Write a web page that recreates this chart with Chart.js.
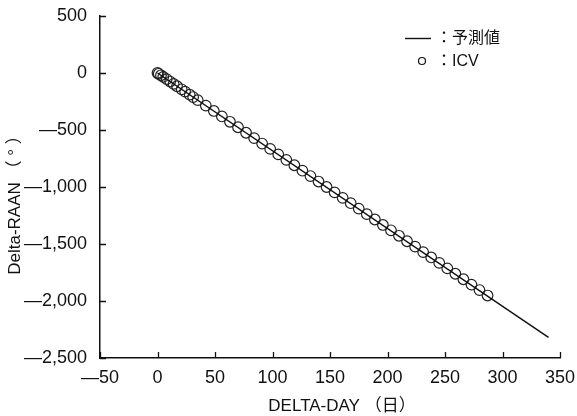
<!DOCTYPE html>
<html>
<head>
<meta charset="utf-8">
<script src="https://cdn.jsdelivr.net/npm/chart.js@4.4.1/dist/chart.umd.min.js"></script>
<style>
  html, body { margin: 0; padding: 0; background: #fff; }
  #wrap { width: 577px; height: 416px; }
</style>
</head>
<body>
<div id="wrap"><canvas id="myChart" width="577" height="416"></canvas></div>
<script>
// ICV observations (day, delta-RAAN in degrees)
const icvDays = [0, 1, 3, 5, 8, 11, 14, 17, 21, 24, 28, 31, 35, 42, 49, 56, 63, 70, 77, 84, 91, 98,
  105, 112, 119, 126, 133, 140, 147, 154, 161, 168, 175, 182, 189, 196, 203, 210, 217, 224, 231,
  238, 245, 252, 259, 266, 273, 280, 287];
const icvRaan = [0, -7, -20, -34, -54, -75, -95, -116, -143, -163, -190, -211, -238, -286, -333,
  -381, -428, -476, -524, -571, -619, -666, -714, -762, -809, -857, -904, -952, -1000, -1047,
  -1095, -1142, -1190, -1238, -1285, -1333, -1380, -1428, -1476, -1523, -1571, -1618, -1666,
  -1714, -1761, -1809, -1856, -1904, -1952];

// predicted line
const predDays = [0, 340];
const predRaan = [0, -2319];

const xTicks = [-50, 0, 50, 100, 150, 200, 250, 300, 350];
const yTicks = [500, 0, -500, -1000, -1500, -2000, -2500];

const xTitle = 'DELTA-DAY （日）';
const yTitle = 'Delta-RAAN （ ° ）';
const legendPred = '：予測値';
const legendIcv = '：ICV';

const tickFont = { family: "'Liberation Sans Narrow', 'Arial Narrow', sans-serif", size: 18 };
const fmt = (v) => {
  let s = Math.abs(v).toLocaleString('en-US');
  return v < 0 ? '—' + s : s;
};

const ctx = document.querySelector('#myChart');

const extras = {
  id: 'extras',
  afterDraw(chart) {
    const c = chart.ctx;
    const xs = chart.scales.x, ys = chart.scales.y;
    const area = chart.chartArea;
    c.save();
    // inward tick marks
    c.strokeStyle = '#111';
    c.lineWidth = 1.3;
    c.beginPath();
    yTicks.forEach((v) => {
      let py = Math.round(ys.getPixelForValue(v)) + 0.5;
      c.moveTo(area.left, py);
      c.lineTo(area.left + 6, py);
    });
    xTicks.forEach((v) => {
      let px = Math.round(xs.getPixelForValue(v)) + 0.5;
      c.moveTo(px, area.bottom);
      c.lineTo(px, area.bottom - 6);
    });
    c.stroke();

    // axis titles
    c.fillStyle = '#111';
    c.font = "17px 'Liberation Sans', 'Noto Sans CJK JP', sans-serif";
    c.textAlign = 'center';
    c.textBaseline = 'middle';
    c.fillText(xTitle, 342, 406);
    c.save();
    c.translate(15, 201);
    c.rotate(-Math.PI / 2);
    c.fillText(yTitle, 0, 0);
    c.restore();

    // legend
    c.textAlign = 'left';
    c.font = "16px 'Liberation Sans', 'Noto Sans CJK JP', sans-serif";
    c.beginPath();
    c.lineWidth = 1.4;
    c.moveTo(405, 38.5);
    c.lineTo(431, 38.5);
    c.stroke();
    c.fillText(legendPred, 436, 39);
    c.beginPath();
    c.lineWidth = 1.2;
    c.arc(422, 61, 3.5, 0, Math.PI * 2);
    c.stroke();
    c.fillText(legendIcv, 436, 62);
    c.restore();
  }
};

const config = {
  type: 'scatter',
  data: {
    datasets: [
      {
        label: '予測値',
        data: predDays.map((d, i) => ({ x: d, y: predRaan[i] })),
        showLine: true,
        borderColor: '#111',
        borderWidth: 1.5,
        pointRadius: 0,
        fill: false
      },
      {
        label: 'ICV',
        data: icvDays.map((d, i) => ({ x: d, y: icvRaan[i] })),
        pointStyle: 'circle',
        pointRadius: 5.3,
        borderColor: '#222',
        backgroundColor: 'rgba(0,0,0,0)',
        borderWidth: 1.2
      }
    ]
  },
  options: {
    responsive: false,
    animation: false,
    layout: { padding: { top: 16, right: 17, left: 0, bottom: 0 } },
    plugins: { legend: { display: false }, tooltip: { enabled: false } },
    scales: {
      x: {
        type: 'linear',
        min: -50,
        max: 350,
        grid: { display: false },
        border: { display: true, color: '#111', width: 1.5 },
        afterBuildTicks: (s) => { s.ticks = xTicks.map((v) => ({ value: v })); },
        afterFit: (s) => { s.height = 58; },
        ticks: { font: tickFont, color: '#111', padding: 1, maxRotation: 0, callback: fmt }
      },
      y: {
        type: 'linear',
        min: -2500,
        max: 500,
        grid: { display: false },
        border: { display: true, color: '#111', width: 1.5 },
        afterBuildTicks: (s) => { s.ticks = yTicks.map((v) => ({ value: v })); },
        afterFit: (s) => { s.width = 100; },
        ticks: { font: tickFont, color: '#111', padding: 5, callback: fmt }
      }
    }
  },
  plugins: [extras]
};

let chart = new Chart(ctx, config);
</script>
</body>
</html>
